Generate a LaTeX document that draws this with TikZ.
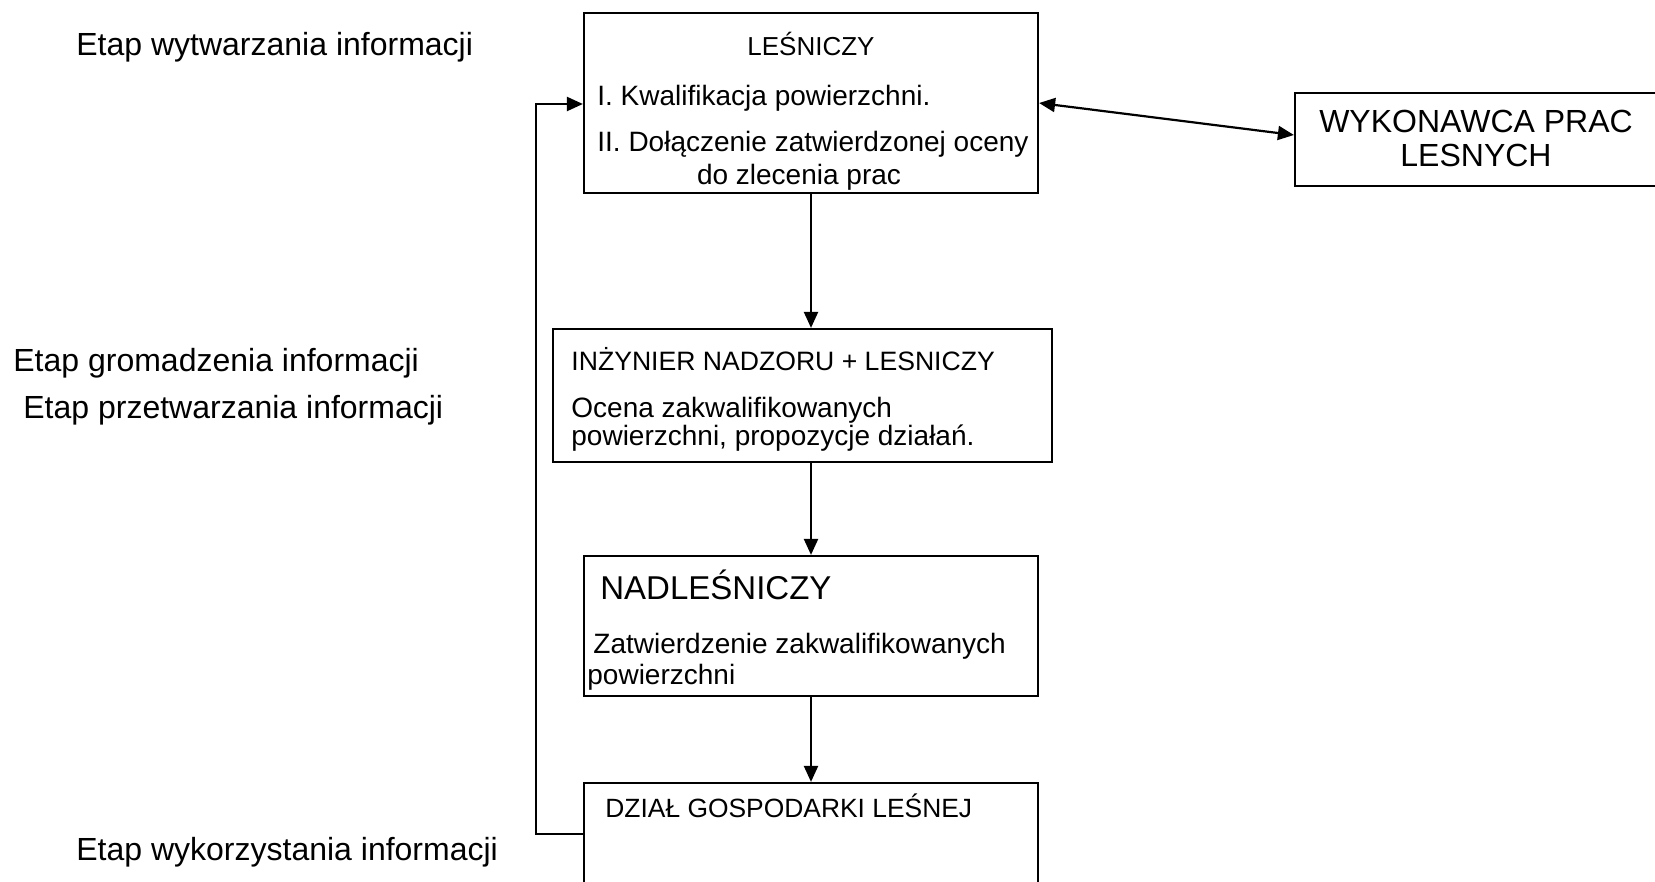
\documentclass[tikz,border=0pt]{standalone}
\usepackage{fontspec}
\setmainfont{Liberation Sans}
\usetikzlibrary{arrows.meta}
\begin{document}
\begin{tikzpicture}[x=0.5pt,y=-0.5pt,
  box/.style={draw=black,line width=1.1pt,inner sep=0pt,minimum width=#1},
  txt/.style={inner sep=0pt,text height=0.72em,text depth=0pt,yshift=-2pt},
  conn/.style={line width=1.1pt,-{Triangle[length=8pt,width=7pt]}},
  dconn/.style={line width=1.1pt,{Triangle[length=8pt,width=7pt]}-{Triangle[length=8pt,width=7pt]}}]
\useasboundingbox (0,0) rectangle (1655,882);
% boxes
\node[box=227pt,minimum height=90pt] (lesn) at (811,103) {};
\node[box=181.5pt,minimum height=46.5pt] (wyk) at (1476.5,139.5) {};
\node[box=249.5pt,minimum height=66.5pt] (inz) at (802.5,395.5) {};
\node[box=227pt,minimum height=70pt] (nadl) at (811,626) {};
\node[box=227pt,minimum height=53.5pt] (dzial) at (811,836.5) {};
% texts in boxes
\node[txt,font=\fontsize{13}{15}\selectfont] (t1) at (811,44) {LEŚNICZY};
\node[txt,anchor=west,font=\fontsize{14}{16}\selectfont] (t2) at (597,94) {I. Kwalifikacja powierzchni.};
\node[txt,anchor=west,font=\fontsize{14}{16}\selectfont] (t3) at (597,140) {II. Dołączenie zatwierdzonej oceny};
\node[txt,font=\fontsize{14}{16}\selectfont] (t4) at (799,173) {do zlecenia prac};
\node[txt,font=\fontsize{16}{18}\selectfont] (w1) at (1476,121) {WYKONAWCA PRAC};
\node[txt,font=\fontsize{16}{18}\selectfont] (w2) at (1476,155) {LESNYCH};
\node[txt,anchor=west,font=\fontsize{13.3}{15}\selectfont] (i1) at (571,359) {INŻYNIER NADZORU + LESNICZY};
\node[txt,anchor=west,font=\fontsize{14}{16}\selectfont] (i2) at (571,406) {Ocena zakwalifikowanych};
\node[txt,anchor=west,font=\fontsize{14}{16}\selectfont] (i3) at (571,434) {powierzchni, propozycje działań.};
\node[txt,anchor=west,font=\fontsize{16.5}{18}\selectfont] (n1) at (600,588) {NADLEŚNICZY};
\node[txt,anchor=west,font=\fontsize{14}{16}\selectfont] (n2) at (593,642) {Zatwierdzenie zakwalifikowanych};
\node[txt,anchor=west,font=\fontsize{14}{16}\selectfont] (n3) at (587,673) {powierzchni};
\node[txt,anchor=west,font=\fontsize{13.2}{15}\selectfont] (d1) at (605,806) {DZIAŁ GOSPODARKI LEŚNEJ};
% stage labels
\node[txt,anchor=west,font=\fontsize{16}{18}\selectfont] (e1) at (76,44) {Etap wytwarzania informacji};
\node[txt,anchor=west,font=\fontsize{16}{18}\selectfont] (e2) at (13,360) {Etap gromadzenia informacji};
\node[txt,anchor=west,font=\fontsize{16}{18}\selectfont] (e3) at (23,407) {Etap przetwarzania informacji};
\node[txt,anchor=west,font=\fontsize{16}{18}\selectfont] (e4) at (76,849) {Etap wykorzystania informacji};
% connectors
\draw[conn] (lesn.south) -- (lesn.south |- inz.north);
\draw[conn] (inz.south -| nadl.north) -- (nadl.north);
\draw[conn] (nadl.south) -- (dzial.north);
\draw[dconn] (lesn.east) -- ([yshift=2.25pt]wyk.west);
\coordinate (fbB) at (536,834);
\coordinate (fbT) at (536,104);
\draw[conn] (dzial.west |- fbB) -- (fbB) -- (fbT) -- (fbT -| lesn.west);
\end{tikzpicture}
\end{document}
